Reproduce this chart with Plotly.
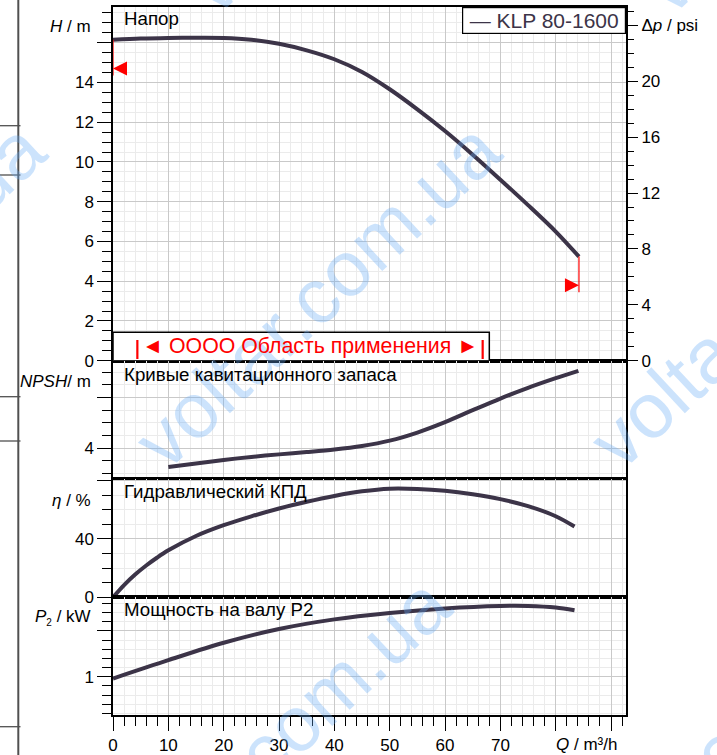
import plotly.graph_objects as go

# ---------------- data ----------------
q_head = [0, 5, 10, 15, 20, 25, 30, 35, 40, 45, 50, 55, 60, 65, 70, 75, 80, 84.2]
head_m = [16.15, 16.21, 16.24, 16.25, 16.24, 16.15, 15.95, 15.62, 15.17, 14.53,
          13.66, 12.65, 11.56, 10.37, 9.11, 7.83, 6.5, 5.24]

q_npsh = [10, 15, 20, 25, 30, 35, 40, 45, 50, 55, 60, 65, 70, 75, 80, 84.1]
npsh_m = [3.26, 3.40, 3.54, 3.66, 3.76, 3.85, 3.95, 4.09, 4.30, 4.62, 5.03,
          5.50, 5.96, 6.38, 6.76, 7.05]

q_eff = [0, 2, 4, 6, 8, 10, 15, 20, 25, 30, 35, 40, 45, 50, 55, 60, 65, 70, 75, 80, 83.4]
eff_pct = [0, 8.4, 15.6, 21.8, 27.3, 32.2, 42.0, 49.4, 55.5, 60.9, 65.5, 69.5, 72.7, 74.5,
           74.3, 73.0, 70.6, 67.3, 62.5, 55.6, 48.5]

q_power = [0, 10, 20, 30, 40, 50, 60, 70, 75, 80, 83.4]
power_kw = [0.98, 1.18, 1.37, 1.52, 1.625, 1.695, 1.745, 1.772, 1.772, 1.755, 1.725]

x_tick_vals = [0, 10, 20, 30, 40, 50, 60, 70, 80, 90]
x_tick_text = ["0", "10", "20", "30", "40", "50", "60", "70", "", ""]

h_tick_vals = [0, 2, 4, 6, 8, 10, 12, 14, 16]
h_tick_text = ["0", "2", "4", "6", "8", "10", "12", "14", ""]
psi_tick_vals = [0, 4, 8, 12, 16, 20, 24]
psi_tick_text = ["0", "4", "8", "12", "16", "20", "Δ<i>p</i> / psi"]
npsh_tick_vals = [4, 6]
npsh_tick_text = ["4", ""]
eff_tick_vals = [0, 40, 80]
eff_tick_text = ["0", "40", ""]
pw_tick_vals = [1.0, 1.5]
pw_tick_text = ["1", ""]

# operating-point limit markers and application range
op_left_q, op_left_h = 0.0, 14.7
op_right_q, op_right_h = 84.2, 3.8
app_range_q = [4.4, 66.8]
app_box_q, app_box_h = 68.0, 1.43

PSI_PER_M = 1.4223

# ---------------- geometry / style ----------------
W, HGT = 717, 755
ML, MR, MT, MB = 113, 91, 7, 40
PW, PH = W - ML - MR, HGT - MT - MB
X_MAX = 92.7
H_RANGE = [0, 17.8]
NPSH_RANGE = [2.79, 7.45]
EFF_RANGE = [0, 81.1]
PW_RANGE = [0.582, 1.866]


def px_x(px):
    return (px - ML) / PW


def px_y(py):
    return (HGT - MB - py) / PH


d_pw = [0, px_y(597.3)]
d_eff = [px_y(597.3), px_y(479)]
d_npsh = [px_y(479), px_y(360.7)]
d_h = [px_y(360.7), 1]

CURVE = "#3c3448"
GRID_MAJ = "#c9c9c9"
GRID_MIN = "#ebebeb"
FONT = "Liberation Sans, Arial, sans-serif"
RED = "#ff0000"

q_per_px = X_MAX / PW
h_per_px = (H_RANGE[1] - H_RANGE[0]) / (PH * (d_h[1] - d_h[0]))

fig = go.Figure()
line_style = dict(color=CURVE, width=4, shape="spline", smoothing=0.9)
fig.add_trace(go.Scatter(x=q_head, y=head_m, mode="lines", line=line_style,
                         xaxis="x", yaxis="y", hoverinfo="skip", showlegend=False))
fig.add_trace(go.Scatter(x=[0], y=[0], mode="lines", opacity=0, xaxis="x", yaxis="y5",
                         hoverinfo="skip", showlegend=False))
fig.add_trace(go.Scatter(x=q_npsh, y=npsh_m, mode="lines", line=line_style,
                         xaxis="x2", yaxis="y2", hoverinfo="skip", showlegend=False))
fig.add_trace(go.Scatter(x=q_eff, y=eff_pct, mode="lines", line=line_style,
                         xaxis="x3", yaxis="y3", hoverinfo="skip", showlegend=False))
fig.add_trace(go.Scatter(x=q_power, y=power_kw, mode="lines", line=line_style,
                         xaxis="x4", yaxis="y4", hoverinfo="skip", showlegend=False))

# red limit markers
tri_w, tri_h = 14 * q_per_px, 7 * h_per_px
fig.add_trace(go.Scatter(x=[op_left_q, op_left_q], y=[head_m[0], op_left_h - tri_h],
                         mode="lines", line=dict(color=RED, width=1.2),
                         xaxis="x", yaxis="y", hoverinfo="skip", showlegend=False))
fig.add_trace(go.Scatter(x=[op_left_q, op_left_q + tri_w, op_left_q + tri_w, op_left_q],
                         y=[op_left_h, op_left_h + tri_h, op_left_h - tri_h, op_left_h],
                         mode="lines", fill="toself", fillcolor=RED, line=dict(color=RED, width=0),
                         xaxis="x", yaxis="y", hoverinfo="skip", showlegend=False))
fig.add_trace(go.Scatter(x=[op_right_q, op_right_q], y=[head_m[-1], op_right_h - tri_h],
                         mode="lines", line=dict(color=RED, width=1.2),
                         xaxis="x", yaxis="y", hoverinfo="skip", showlegend=False))
fig.add_trace(go.Scatter(x=[op_right_q, op_right_q - tri_w, op_right_q - tri_w, op_right_q],
                         y=[op_right_h, op_right_h + tri_h, op_right_h - tri_h, op_right_h],
                         mode="lines", fill="toself", fillcolor=RED, line=dict(color=RED, width=0),
                         xaxis="x", yaxis="y", hoverinfo="skip", showlegend=False))

tickfont = dict(family=FONT, size=17, color="black")


def xaxis(anchor, bottom=False):
    d = dict(anchor=anchor, domain=[0, 1], range=[0, X_MAX], showgrid=True, gridcolor=GRID_MAJ,
             gridwidth=1, showline=True, linecolor="black", linewidth=1.5, mirror=True,
             zeroline=False, tickmode="array", tickvals=x_tick_vals, ticktext=x_tick_text,
             tickfont=tickfont, automargin=False)
    if bottom:
        d.update(ticks="outside", ticklen=14, tickwidth=1.2, tickcolor="black",
                 showticklabels=True,
                 minor=dict(tick0=0, dtick=2, ticks="outside", ticklen=9, tickwidth=1.2,
                            tickcolor="black", showgrid=True, gridcolor=GRID_MIN))
    else:
        d.update(ticks="", showticklabels=False,
                 minor=dict(tick0=0, dtick=2, ticks="", showgrid=True, gridcolor=GRID_MIN))
    return d


def yaxis(anchor, dom, rng, tv, tt, mdt):
    return dict(anchor=anchor, domain=dom, range=rng, tickmode="array", tickvals=tv, ticktext=tt,
                showgrid=True, gridcolor=GRID_MAJ, gridwidth=1, showline=True, linecolor="black",
                linewidth=1.5, mirror=True, zeroline=False, ticks="outside", ticklen=14,
                tickwidth=1.2, tickcolor="black", tickfont=tickfont, automargin=False,
                minor=dict(tick0=0, dtick=mdt, ticks="outside", ticklen=9, tickwidth=1.2,
                           tickcolor="black", showgrid=True, gridcolor=GRID_MIN))


layout = dict(
    width=W, height=HGT, autosize=False,
    margin=dict(l=ML, r=MR, t=MT, b=MB, autoexpand=False),
    paper_bgcolor="white", plot_bgcolor="white",
    font=dict(family=FONT, size=17, color="black"),
    showlegend=False,
    xaxis=xaxis("y"), xaxis2=xaxis("y2"), xaxis3=xaxis("y3"), xaxis4=xaxis("y4", bottom=True),
    yaxis=yaxis("x", d_h, H_RANGE, h_tick_vals, h_tick_text, 0.5),
    yaxis2=yaxis("x2", d_npsh, NPSH_RANGE, npsh_tick_vals, npsh_tick_text, 0.5),
    yaxis3=yaxis("x3", d_eff, EFF_RANGE, eff_tick_vals, eff_tick_text, 10),
    yaxis4=yaxis("x4", d_pw, PW_RANGE, pw_tick_vals, pw_tick_text, 0.1),
    yaxis5=dict(overlaying="y", side="right", anchor="x", range=[H_RANGE[0] * PSI_PER_M, H_RANGE[1] * PSI_PER_M],
                tickmode="array", tickvals=psi_tick_vals, ticktext=psi_tick_text, showgrid=False,
                showline=False, zeroline=False, ticks="outside", ticklen=11, tickwidth=1.2,
                tickcolor="black", tickfont=tickfont, automargin=False,
                minor=dict(tick0=0, dtick=1, ticks="outside", ticklen=7, tickwidth=1.2,
                           tickcolor="black", showgrid=False)),
)
fig.update_layout(**layout)

shapes = []
# application range box
shapes.append(dict(type="rect", xref="x", yref="y", x0=0, x1=app_box_q, y0=0, y1=app_box_h,
                   fillcolor="white", line=dict(color="black", width=1.5), layer="above"))
for qv in app_range_q:
    shapes.append(dict(type="line", xref="x", yref="y", x0=qv, x1=qv,
                       y0=1.7 * h_per_px, y1=20.7 * h_per_px,
                       line=dict(color=RED, width=2.2), layer="above"))
# page frame on the left
frame = "#505050"
shapes.append(dict(type="line", xref="paper", yref="paper", x0=px_x(18.3), x1=px_x(18.3),
                   y0=px_y(0), y1=px_y(HGT), line=dict(color=frame, width=2)))
for py in [125.7, 175, 396.7, 441, 726.7]:
    shapes.append(dict(type="line", xref="paper", yref="paper", x0=px_x(0), x1=px_x(20.5),
                       y0=px_y(py), y1=px_y(py), line=dict(color=frame, width=1.3)))
fig.update_layout(shapes=shapes)

ann = []
# watermarks
for cx, cy in [(317, 295), (772, 295), (267, 750), (-138, 295), (722, 750), (367, -160), (822, -160)]:
    ann.append(dict(xref="paper", yref="paper", x=px_x(cx), y=px_y(cy), text="voltar.com.ua",
                    showarrow=False, textangle=-43, xanchor="center", yanchor="middle",
                    font=dict(family=FONT, size=78, color="rgba(100,170,245,0.33)")))
# panel titles
for py, txt in [(19, "Напор"), (374, "Кривые кавитационного запаса"),
                (491, "Гидравлический КПД"), (609, "Мощность на валу P2")]:
    ann.append(dict(xref="paper", yref="paper", x=px_x(122), y=px_y(py), text=txt,
                    showarrow=False, xanchor="left", yanchor="middle",
                    font=dict(family=FONT, size=18.7, color="black")))
# axis titles
for py, txt in [(27, "<i>H</i> / m"), (381, "<i>NPSH</i>/ m"), (500, "<i>η</i> / %"),
                (617, "<i>P</i><sub><span style='font-size:10px'>2</span></sub> / kW")]:
    ann.append(dict(xref="paper", yref="paper", x=px_x(93), y=px_y(py), text=txt,
                    showarrow=False, xanchor="right", yanchor="middle",
                    font=dict(family=FONT, size=17, color="black")))
ann.append(dict(xref="paper", yref="paper", x=px_x(554), y=px_y(745), text="<i>Q</i> / m³/h",
                showarrow=False, xanchor="left", yanchor="middle",
                font=dict(family=FONT, size=17, color="black")))
# legend box
ann.append(dict(xref="paper", yref="paper", x=1, y=1, xanchor="right", yanchor="top",
                text="— KLP 80-1600", showarrow=False, width=162, height=25, align="center",
                bgcolor="white", bordercolor="black", borderwidth=1.2, borderpad=0,
                font=dict(family=FONT, size=21, color=CURVE)))
# application range text
ann.append(dict(xref="x", yref="y", x=sum(app_range_q) / 2, y=15 * h_per_px,
                text="◄ OOOO Область применения ►", showarrow=False,
                xanchor="center", yanchor="middle",
                font=dict(family=FONT, size=21.3, color=RED)))
fig.update_layout(annotations=ann)

fig.write_html("out.html", config={"displayModeBar": False},
               post_script="document.body.style.margin='0';document.body.style.overflow='hidden';")
